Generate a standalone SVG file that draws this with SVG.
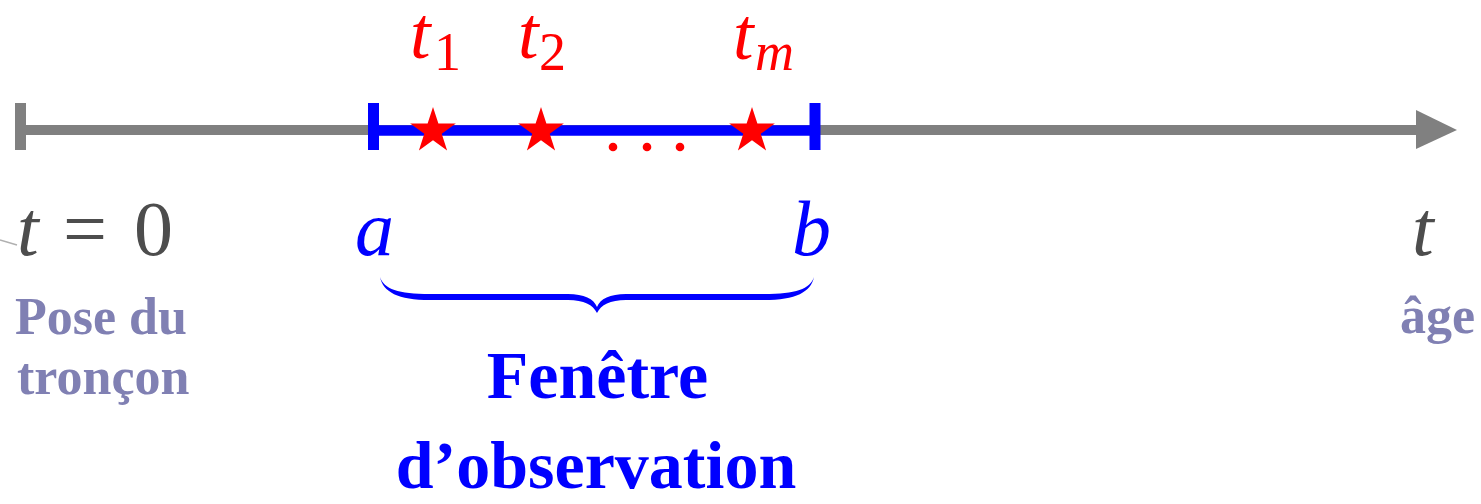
<svg xmlns="http://www.w3.org/2000/svg" xmlns:xlink="http://www.w3.org/1999/xlink" width="1481" height="504" viewBox="0 0 1481 504">
<style>
.m{font-family:"Liberation Serif","Times New Roman",serif;font-style:italic}
.r{font-family:"Liberation Serif","Times New Roman",serif}
.b{font-family:"Liberation Serif","Times New Roman",serif;font-weight:bold}
.gray{fill:#4d4d4d}
.red{fill:#ff0000}
.blue{fill:#0000ff}
.lab{fill:#8080b3}
</style>
<defs>
<polygon id="star" points="0,-24 5.39,-7.42 22.83,-7.42 8.72,2.83 14.11,19.42 0,9.17 -14.11,19.42 -8.72,2.83 -22.83,-7.42 -5.39,-7.42" fill="#ff0000"/>
</defs>
<rect width="1481" height="504" fill="#ffffff"/>
<g id="connectors">
<line x1="0" y1="240" x2="17" y2="245" stroke="#b0b0b0" stroke-width="1.5"/>
<line x1="20" y1="130" x2="1418" y2="130" stroke="#808080" stroke-width="10"/>
<polygon points="1416,110 1457,130 1416,149" fill="#808080"/>
<line x1="20.5" y1="103" x2="20.5" y2="150" stroke="#808080" stroke-width="11"/>
<line x1="373" y1="130.5" x2="815" y2="130.5" stroke="#0000ff" stroke-width="10.5"/>
<line x1="373.5" y1="103" x2="373.5" y2="150" stroke="#0000ff" stroke-width="11"/>
<line x1="815" y1="103" x2="815" y2="150" stroke="#0000ff" stroke-width="11"/>
</g>
<g id="events">
<use xlink:href="#star" href="#star" x="433" y="131"/>
<use xlink:href="#star" href="#star" x="541" y="131"/>
<use xlink:href="#star" href="#star" x="752" y="131"/>
<circle cx="613" cy="147" r="4.3" fill="#ff0000"/>
<circle cx="647" cy="147" r="4.3" fill="#ff0000"/>
<circle cx="680" cy="147" r="4.3" fill="#ff0000"/>
</g>
<g id="event-labels">
<text class="m red" x="410" y="58" font-size="74">t</text><text class="r red" x="434" y="70" font-size="54">1</text>
<text class="m red" x="518" y="58" font-size="74">t</text><text class="r red" x="539" y="70" font-size="54">2</text>
<text class="m red" x="733" y="59" font-size="74">t</text><text class="m red" x="755" y="70" font-size="54">m</text>
</g>
<g id="origin">
<text class="m gray" x="17" y="255" font-size="78">t</text>
<text class="r gray" x="63" y="255" font-size="78">=</text>
<text class="r gray" x="134" y="255" font-size="78">0</text>
<text class="b lab" x="15" y="334" font-size="52">Pose du</text>
<text class="b lab" x="17" y="394" font-size="52">tronçon</text>
</g>
<g id="window">
<text class="m blue" x="355" y="255" font-size="78">a</text>
<text class="m blue" x="792" y="255" font-size="78">b</text>
<path d="M380,277 C384,289 398,294 430,294 H568 C584,294 594,299 597,307 C600,299 610,294 626,294 H764 C796,294 810,289 814,277 C811,292 796,300 764,300 H626 C610,300 601,305 597,313 C593,305 584,300 568,300 H430 C398,300 383,292 380,277 Z" fill="#0000ff"/>
<text class="b blue" x="597.5" y="398" font-size="68" text-anchor="middle">Fenêtre</text>
<text class="b blue" x="596" y="488" font-size="68" text-anchor="middle">d’observation</text>
</g>
<g id="age">
<text class="m gray" x="1412" y="255" font-size="78">t</text>
<text class="b lab" x="1400" y="333" font-size="52">âge</text>
</g>
</svg>
